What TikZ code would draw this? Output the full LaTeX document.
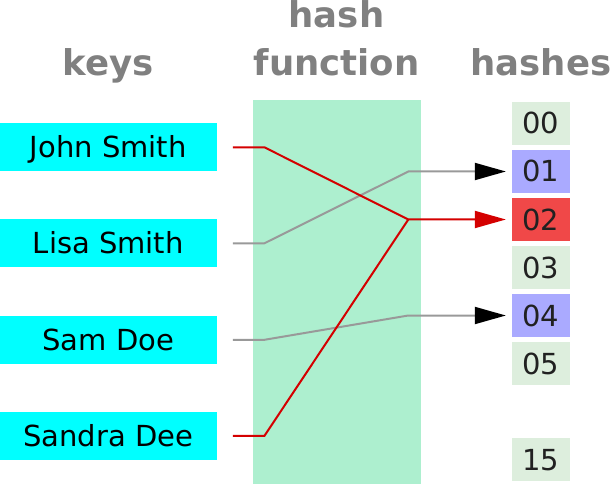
\documentclass[tikz,border=0pt]{standalone}
\usepackage{fontspec}
\setmainfont{DejaVu Sans}
\usetikzlibrary{arrows.meta}
\definecolor{keycyan}{HTML}{00FFFF}
\definecolor{bandgreen}{HTML}{ADEFCF}
\definecolor{hashlight}{HTML}{DDEEDD}
\definecolor{hashblue}{HTML}{AAAAFF}
\definecolor{hashred}{HTML}{F04848}
\definecolor{linered}{HTML}{D40000}
\definecolor{linegray}{HTML}{999999}
\definecolor{titlegray}{HTML}{808080}
\begin{document}
\begin{tikzpicture}[x=1pt,y=-1pt,
  keybox/.style={fill=keycyan,minimum width=216.7pt,minimum height=48pt,inner sep=0pt,draw=none},
  hashbox/.style={fill=hashlight,minimum width=58pt,minimum height=43pt,inner sep=0pt,draw=none},
  keytext/.style={anchor=base,inner sep=0pt,font=\fontsize{29}{34}\selectfont,text=black},
  title/.style={anchor=base,inner sep=0pt,font=\fontsize{35.5}{48}\selectfont\bfseries,text=titlegray,align=center},
  redline/.style={draw=linered,line width=2pt},
  grayline/.style={draw=linegray,line width=2pt},
  blacktip/.style={-{Triangle[length=31pt,width=17pt,black]},shorten >=6pt},
  redtip/.style={-{Triangle[length=31pt,width=17pt]},shorten >=6pt}
]
\useasboundingbox (0,0) rectangle (611,484);
% hash function band
\fill[bandgreen] (252.7,100) rectangle (420.7,484);
% titles
\node[title] (tkeys) at (108.5,76) {keys};
\node[title] (thash) at (336.5,28) {hash};
\node[title] (tfunc) at (336.5,76) {function};
\node[title] (thashes) at (541,76) {hashes};
% key boxes
\node[keybox] (john) at (108.35,147.3) {};
\node[keybox] (lisa) at (108.35,243.3) {};
\node[keybox] (sam) at (108.35,339.8) {};
\node[keybox] (sandra) at (108.35,435.9) {};
\node[keytext] (johnt) at (108.35,157.8) {John Smith};
\node[keytext] (lisat) at (108.35,253.8) {Lisa Smith};
\node[keytext] (samt) at (108.35,350.3) {Sam Doe};
\node[keytext] (sandrat) at (108.35,446.4) {Sandra Dee};
% hash boxes
\node[hashbox] (h00) at (541,123.5) {};
\node[hashbox,fill=hashblue] (h01) at (541,171.5) {};
\node[hashbox,fill=hashred] (h02) at (541,219.5) {};
\node[hashbox] (h03) at (541,267.5) {};
\node[hashbox,fill=hashblue] (h04) at (541,315.5) {};
\node[hashbox] (h05) at (541,363.5) {};
\node[hashbox] (h15) at (541,459.5) {};
\foreach \n/\t in {h00/00,h01/01,h02/02,h03/03,h04/04,h05/05,h15/15}
  \node[keytext,text=black!87] at ([yshift=-10.5pt]\n.center) {\t};
% bend coordinates
\coordinate (b1) at (408.3,171.5);
\coordinate (b2) at (408.3,219.5);
\coordinate (b3) at (408.3,315.5);
% connectors
\draw[grayline,blacktip] ([xshift=16pt]lisa.east) -- ++(31.5,0) -- (b1) -- (h01.west);
\draw[grayline,blacktip] ([xshift=16pt]sam.east) -- ++(31.5,0) -- (b3) -- (h04.west);
\draw[redline] ([xshift=16pt]sandra.east) -- ++(31.5,0) -- (b2);
\draw[redline,redtip] ([xshift=16pt]john.east) -- ++(31.5,0) -- (b2) -- (h02.west);
\end{tikzpicture}
\end{document}
